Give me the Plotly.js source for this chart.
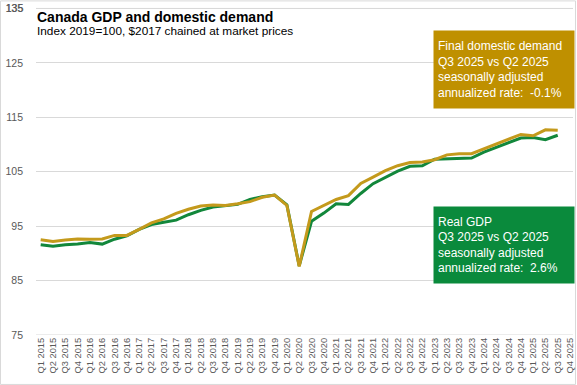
<!DOCTYPE html>
<html>
<head>
<meta charset="utf-8">
<script src="https://cdn.plot.ly/plotly-3.0.1.min.js"></script>
<style>
  html, body { margin: 0; padding: 0; background: #fff; }
  #chart { width: 577px; height: 385px; }
</style>
</head>
<body>
<div id="chart"></div>
<script>
const categories = [
  "Q1 2015","Q2 2015","Q3 2015","Q4 2015",
  "Q1 2016","Q2 2016","Q3 2016","Q4 2016",
  "Q1 2017","Q2 2017","Q3 2017","Q4 2017",
  "Q1 2018","Q2 2018","Q3 2018","Q4 2018",
  "Q1 2019","Q2 2019","Q3 2019","Q4 2019",
  "Q1 2020","Q2 2020","Q3 2020","Q4 2020",
  "Q1 2021","Q2 2021","Q3 2021","Q4 2021",
  "Q1 2022","Q2 2022","Q3 2022","Q4 2022",
  "Q1 2023","Q2 2023","Q3 2023","Q4 2023",
  "Q1 2024","Q2 2024","Q3 2024","Q4 2024",
  "Q1 2025","Q2 2025","Q3 2025","Q4 2025"
];

const realGDP = [
  91.6, 91.3, 91.6, 91.7,
  92.0, 91.7, 92.6, 93.2,
  94.4, 95.3, 95.7, 96.1,
  97.1, 97.9, 98.5, 98.8,
  99.0, 99.9, 100.4, 100.7,
  98.9, 87.7, 95.9, 97.4,
  99.1, 99.0, 101.0, 102.8,
  104.0, 105.1, 106.0, 106.1,
  107.3, 107.4, 107.4, 107.5,
  108.6, 109.5, 110.4, 111.2,
  111.3, 110.9, 111.7
];

const finalDomesticDemand = [
  92.5, 92.2, 92.45, 92.65,
  92.6, 92.65, 93.3, 93.3,
  94.4, 95.6, 96.35, 97.35,
  98.1, 98.7, 98.9, 98.8,
  99.1, 99.5, 100.3, 100.7,
  98.8, 87.6, 97.7, 98.8,
  99.9, 100.6, 102.85, 104.0,
  105.2, 106.1, 106.7, 106.8,
  107.2, 108.1, 108.3, 108.3,
  109.2, 110.0, 110.9, 111.85,
  111.6, 112.7, 112.6
];

const yTicks = [75, 85, 95, 105, 115, 125, 135];

const titleText = "Canada GDP and domestic demand";
const subtitleText = "Index 2019=100, $2017 chained at market prices";
const fddNote = ["Final domestic demand", "Q3 2025 vs Q2 2025", "seasonally adjusted", "annualized rate:  -0.1%"];
const gdpNote = ["Real GDP", "Q3 2025 vs Q2 2025", "seasonally adjusted", "annualized rate:  2.6%"];

const GREEN = "#12873b";
const GOLD = "#c49a1c";
const GOLD_BOX = "#bf9000";
const GREEN_BOX = "#0a8a3c";
const GRID = "#d9d9d9";
const TICK = "#595959";
const FONT = "Liberation Sans, Arial, sans-serif";

const W = 577, H = 385;
const M = { l: 36, r: 4, t: 2.6, b: 50 };
const PW = W - M.l - M.r, PH = H - M.t - M.b;
const px = x => (x - M.l) / PW;
const py = y => 1 - (y - M.t) / PH;

const yMin = yTicks[0], yMax = yTicks[yTicks.length - 1];

const traces = [
  {
    type: "scatter", mode: "lines", name: "Real GDP",
    x: categories.slice(0, realGDP.length), y: realGDP,
    line: { color: GREEN, width: 3 }, hoverinfo: "skip"
  },
  {
    type: "scatter", mode: "lines", name: "Final domestic demand",
    x: categories.slice(0, finalDomesticDemand.length), y: finalDomesticDemand,
    line: { color: GOLD, width: 3 }, hoverinfo: "skip"
  }
];

const layout = {
  width: W, height: H,
  margin: M,
  paper_bgcolor: "#ffffff", plot_bgcolor: "#ffffff",
  showlegend: false,
  font: { family: FONT, color: TICK },
  xaxis: {
    type: "category",
    categoryorder: "array", categoryarray: categories,
    tickmode: "array", tickvals: categories, ticktext: categories,
    range: [-0.38, 43.24],
    tickangle: -90,
    tickfont: { size: 9.3, color: TICK },
    showgrid: false, zeroline: false,
    showline: false, ticks: "",
    automargin: false
  },
  yaxis: {
    range: [75, 136],
    tickmode: "array", tickvals: yTicks,
    tickfont: { size: 10.5, color: TICK },
    showgrid: true, gridcolor: GRID, gridwidth: 1,
    zeroline: false, showline: false, ticks: "",
    ticklabelstandoff: 12,
    ticklabeloverflow: "allow",
    automargin: false
  },
  shapes: [
    {
      type: "rect", xref: "paper", yref: "paper",
      x0: px(0.5), x1: px(575.5), y0: py(384.5), y1: py(0.5),
      line: { color: GRID, width: 1 }, fillcolor: "rgba(0,0,0,0)", layer: "below"
    },
    {
      type: "line", xref: "paper", yref: "y",
      x0: 0, x1: 1, y0: yMin, y1: yMin,
      line: { color: GRID, width: 1 }, layer: "below"
    },
    {
      type: "line", xref: "paper", yref: "y",
      x0: 0, x1: 1, y0: yMax, y1: yMax,
      line: { color: GRID, width: 1 }, layer: "below"
    }
  ],
  annotations: [
    {
      xref: "paper", yref: "y", x: px(25.5), y: yMax, xanchor: "right", yanchor: "middle",
      text: String(yMax), showarrow: false,
      font: { size: 10.5, color: TICK, family: FONT }
    },
    {
      xref: "paper", yref: "paper", x: px(35), y: py(17), xanchor: "left", yanchor: "middle",
      text: "<b>" + titleText + "</b>", showarrow: false,
      font: { size: 14, color: "#000000", family: FONT }
    },
    {
      xref: "paper", yref: "paper", x: px(35), y: py(31), xanchor: "left", yanchor: "middle",
      text: subtitleText, showarrow: false,
      font: { size: 11.8, color: "#000000", family: FONT }
    },
    {
      xref: "paper", yref: "paper", x: px(433), y: py(30), xanchor: "left", yanchor: "top",
      text: fddNote.join("<br>"), showarrow: false, align: "left", valign: "middle",
      width: 132, height: 69, borderpad: 4, bgcolor: GOLD_BOX,
      font: { size: 12, color: "#ffffff", family: FONT }
    },
    {
      xref: "paper", yref: "paper", x: px(433), y: py(206), xanchor: "left", yanchor: "top",
      text: gdpNote.join("<br>"), showarrow: false, align: "left", valign: "middle",
      width: 132, height: 68, borderpad: 4, bgcolor: GREEN_BOX,
      font: { size: 12, color: "#ffffff", family: FONT }
    }
  ]
};

Plotly.newPlot("chart", traces, layout, { displayModeBar: false, staticPlot: true });
</script>
</body>
</html>
